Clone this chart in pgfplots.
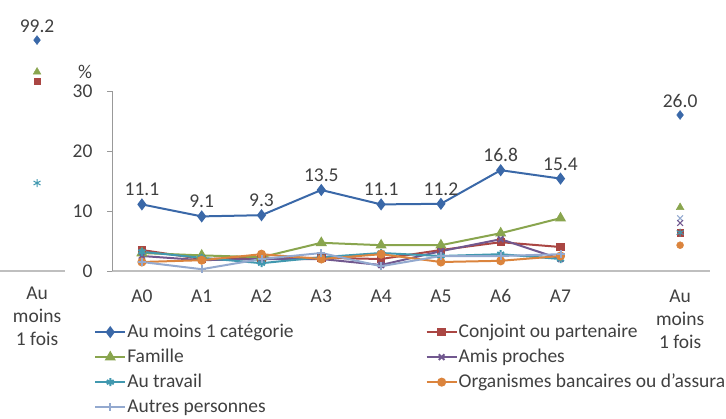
\documentclass[border=0pt]{standalone}
\usepackage{pgfplots}
\pgfplotsset{compat=1.18}
\usepackage{fontspec}
\setmainfont{Carlito}
\definecolor{cBlue}{HTML}{3A68A8}
\definecolor{cRed}{HTML}{AA4643}
\definecolor{cGreen}{HTML}{89A54E}
\definecolor{cPurple}{HTML}{71588F}
\definecolor{cCyan}{HTML}{4198AF}
\definecolor{cOrange}{HTML}{DB843D}
\definecolor{cLight}{HTML}{93A9CF}
\definecolor{cText}{HTML}{404040}
\definecolor{cAxis}{HTML}{BFBFBF}
\newcommand{\fs}{\fontsize{19.5}{23}\selectfont}
\pgfplotsset{
  ser/.style={line width=2pt, mark options={solid}},
  legend image code/.code={\draw[mark repeat=2,mark phase=2] plot coordinates {(0pt,0pt)(15pt,0pt)(30pt,0pt)};},
  lab/.style={nodes near coords, point meta=y,
    nodes near coords style={font=\fs, color=cText, yshift=4pt,
      /pgf/number format/.cd, fixed, fixed zerofill, precision=1, assume math mode=true}},
}
\begin{document}
\begin{tikzpicture}
\path[use as bounding box] (0pt,0pt) rectangle (726pt,418pt);
% left panel
\begin{axis}[
  at={(0pt,147pt)}, anchor=south west, scale only axis,
  width=65pt, height=260pt,
  xmin=0, xmax=1, ymin=0, ymax=111.7,
  axis x line=bottom, axis y line=none,
  x axis line style={-, draw=cAxis, line width=2pt},
  xtick={0.57}, xticklabels={{Au\\moins\\1 fois}},
  xtick style={draw=none},
  xticklabel style={align=center, font=\fs, color=cText, yshift=-10pt},
  clip=false,
]
\addplot[only marks, color=cBlue, mark=diamond*, mark size=4.5pt, lab] coordinates {(0.57,99.2)};
\addplot[only marks, color=cGreen, mark=triangle*, mark size=4.5pt] coordinates {(0.57,85.5)};
\addplot[only marks, color=cRed, mark=square*, mark size=3.2pt] coordinates {(0.57,81.5)};
\addplot[only marks, color=cCyan, mark=asterisk, mark size=4pt, line width=1pt] coordinates {(0.57,37.8)};
\end{axis}
% main panel
\begin{axis}[
  at={(112pt,147pt)}, anchor=south west, scale only axis,
  width=598pt, height=180pt,
  xmin=-0.5, xmax=9.5, ymin=0, ymax=30,
  axis x line=bottom, axis y line=left,
  x axis line style={-, draw=cAxis, line width=2pt},
  y axis line style={-, draw=cAxis!80!black, line width=0.8pt},
  xtick={0,1,2,3,4,5,6,7,9},
  xticklabels={A0,A1,A2,A3,A4,A5,A6,A7,{Au\\moins\\1 fois}},
  xtick style={draw=none},
  xticklabel style={align=center, font=\fs, color=cText, yshift=-10pt},
  ytick={0,10,20,30},
  ytick style={draw=cAxis!80!black, line width=0.8pt},
  tick align=outside, major tick length=5pt,
  yticklabel style={font=\fs, color=cText, xshift=-11pt},
  /pgf/number format/assume math mode=true,
  clip=false,
  legend columns=2,
  legend cell align=left,
  legend style={draw=none, fill=none, inner sep=0pt, font=\fs, text=cText,
    at={(-0.030,-0.283)}, anchor=north west,
    nodes={inner xsep=1pt, inner ysep=0pt, text height=15pt, text depth=5pt},
    row sep=5pt,
    /tikz/every even column/.append style={column sep=131pt}},
]
\addplot[ser, color=cBlue, mark=diamond*, mark size=4.5pt, lab] coordinates {
 (0,11.1)(1,9.1)(2,9.3)(3,13.5)(4,11.1)(5,11.2)(6,16.8)(7,15.4)};
\addlegendentry{Au moins 1 catégorie}
\addplot[ser, color=cRed, mark=square*, mark size=3.2pt] coordinates {
 (0,3.5)(1,2.0)(2,2.2)(3,2.2)(4,2.0)(5,3.5)(6,4.8)(7,4.0)};
\addlegendentry{Conjoint ou partenaire}
\addplot[ser, color=cGreen, mark=triangle*, mark size=4.5pt] coordinates {
 (0,3.0)(1,2.6)(2,2.3)(3,4.7)(4,4.3)(5,4.3)(6,6.3)(7,8.8)};
\addlegendentry{Famille}
\addplot[ser, color=cPurple, mark=x, mark size=4pt] coordinates {
 (0,2.5)(1,1.8)(2,2.0)(3,2.0)(4,1.0)(5,3.3)(6,5.3)(7,2.0)};
\addlegendentry{Amis proches}
\addplot[ser, color=cCyan, mark=asterisk, mark size=4pt] coordinates {
 (0,3.2)(1,2.2)(2,1.3)(3,2.3)(4,3.0)(5,2.5)(6,2.8)(7,2.0)};
\addlegendentry{Au travail}
\addplot[ser, color=cOrange, mark=*, mark size=3.5pt] coordinates {
 (0,1.5)(1,1.8)(2,2.8)(3,2.0)(4,2.8)(5,1.5)(6,1.7)(7,2.5)};
\addlegendentry{Organismes bancaires ou d'assurance}
\addplot[ser, color=cLight, mark=+, mark size=4pt] coordinates {
 (0,1.5)(1,0.3)(2,2.0)(3,3.0)(4,0.8)(5,2.5)(6,2.5)(7,2.8)};
\addlegendentry{Autres personnes}
% "Au moins 1 fois" points
\addplot[forget plot, only marks, color=cBlue, mark=diamond*, mark size=4.5pt, lab] coordinates {(9,26.0)};
\addplot[forget plot, only marks, color=cGreen, mark=triangle*, mark size=4.5pt] coordinates {(9,10.6)};
\addplot[forget plot, only marks, color=cLight, mark=x, mark size=4pt, line width=1pt] coordinates {(9,8.8)};
\addplot[forget plot, only marks, color=cPurple, mark=x, mark size=4pt, line width=1pt] coordinates {(9,8.0)};
\addplot[forget plot, only marks, color=cRed, mark=square*, mark size=3.2pt] coordinates {(9,6.4)};
\addplot[forget plot, only marks, color=cCyan, mark=asterisk, mark size=4pt, line width=1pt] coordinates {(9,6.4)};
\addplot[forget plot, only marks, color=cOrange, mark=*, mark size=3.5pt] coordinates {(9,4.3)};
\end{axis}
\node[font=\fs, color=cText] at (85pt,346pt) {\%};
\end{tikzpicture}
\end{document}
